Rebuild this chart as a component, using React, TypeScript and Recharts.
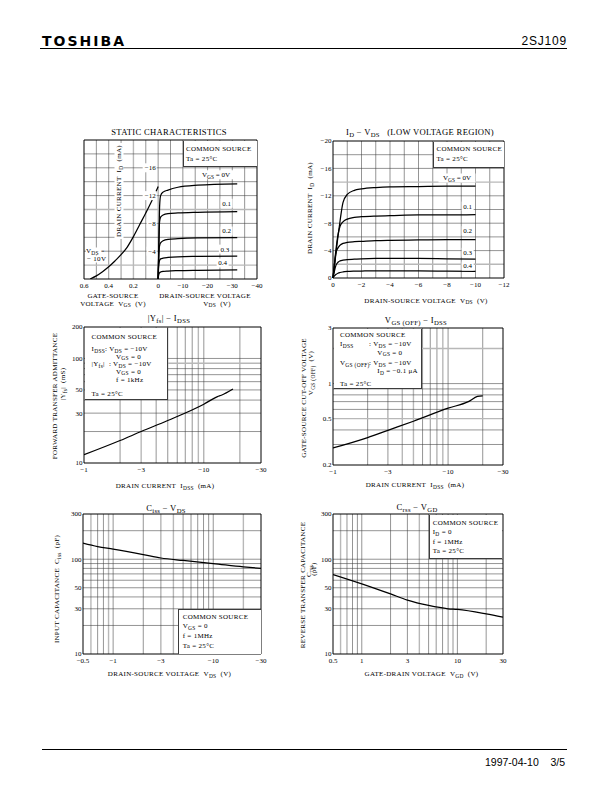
import React from "react";
import { LineChart, Line, XAxis, YAxis, ReferenceLine, ReferenceDot } from "recharts";

const SERIF = '"Liberation Serif", "DejaVu Serif", "Times New Roman", serif';
const SANS = '"Liberation Sans", "DejaVu Sans", Arial, sans-serif';
const FS = 7;
const GRID = "#3c3c3c";
const FAINT = "#b8b8b8";

// ---------- STATIC CHARACTERISTICS ----------
// transfer curve (VDS = -10 V), left half of the plot
const transferVgs = [0.55, 0.5, 0.45, 0.4, 0.35, 0.3, 0.25, 0.2, 0.15, 0.1, 0.05, 0];
const transferId = [0, -0.45, -1.05, -1.75, -2.6, -3.5, -4.6, -6.1, -7.8, -9.5, -11.3, -13.3];
// output curves, right half
const staticVds = [0, -0.2, -0.4, -0.6, -1, -2, -4, -8, -16, -32];
const staticId00 = [0, -3, -7, -10.5, -12, -12.5, -12.8, -13.2, -13.5, -13.7];
const staticId01 = [0, -3.5, -6.8, -8.3, -8.9, -9.2, -9.4, -9.5, -9.6, -9.7];
const staticId02 = [0, -3, -4.3, -4.8, -5.2, -5.5, -5.7, -5.8, -5.9, -5.95];
const staticId03 = [0, -1.8, -2.4, -2.7, -2.9, -3.0, -3.1, -3.2, -3.25, -3.3];
const staticId04 = [0, -0.55, -0.8, -0.9, -1.0, -1.1, -1.15, -1.2, -1.25, -1.3];
const staticGateTicks = [0.6, 0.4, 0.2, 0];
const staticDrainTicks = [-10, -20, -30, -40];
const staticIdTicks = [-16, -12, -8, -4];

// ---------- ID - VDS (LOW VOLTAGE REGION) ----------
const lowVds = [0, -0.1, -0.2, -0.35, -0.5, -0.7, -1, -1.5, -2, -3, -4, -6, -8, -10];
const lowId00 = [0, -1.7, -3.5, -6.1, -8.4, -11.0, -12.2, -12.8, -13.0, -13.2, -13.3, -13.35, -13.4, -13.4];
const lowId01 = [0, -2.0, -4.0, -6.3, -7.6, -8.2, -8.6, -8.85, -8.95, -9.05, -9.1, -9.2, -9.2, -9.25];
const lowId02 = [0, -1.9, -3.6, -4.4, -4.8, -5.05, -5.2, -5.3, -5.35, -5.45, -5.5, -5.55, -5.6, -5.6];
const lowId03 = [0, -1.0, -1.8, -2.3, -2.5, -2.6, -2.7, -2.75, -2.8, -2.85, -2.85, -2.85, -2.8, -2.75];
const lowId04 = [0, -0.3, -0.5, -0.7, -0.8, -0.88, -0.95, -1.0, -1.02, -1.05, -1.05, -1.05, -1.0, -0.95];
const lowVdsTicks = [0, -2, -4, -6, -8, -10, -12];
const lowIdTicks = [0, -4, -8, -12, -16, -20];

// ---------- |Yfs| - IDSS ----------
const yfsIdss = [1, 2, 3, 5, 10, 13, 14, 17.5];
const yfsVal = [12, 16.4, 20, 25.5, 36.5, 43.2, 44.5, 51];
const yfsYTicks = [10, 30, 50, 100, 200];

// ---------- VGS(OFF) - IDSS ----------
const offIdss = [1, 2, 3, 5, 10, 15, 18, 20];
const offVal = [0.28, 0.344, 0.397, 0.475, 0.615, 0.7, 0.775, 0.785];
const offYTicks = [0.2, 0.5, 1, 3];

// ---------- Ciss - VDS ----------
const cissVds = [0.5, 0.7, 1, 2, 3, 5, 10, 20, 30];
const cissVal = [148, 136, 128, 112, 103, 97, 90, 83, 80];

// ---------- Crss - VGD ----------
const crssVgd = [0.5, 1, 2, 3, 5, 8, 10, 20, 30];
const crssVal = [69, 55, 43, 37, 32.5, 30, 29.5, 26.5, 24.5];

// shared tick / grid lists
const idssTicks = [1, 3, 10, 30];
const idssGrid = [2, 3, 4, 5, 6, 7, 8, 9, 10, 20];
const capXTicks = [0.5, 1, 3, 10, 30];
const capXGrid = [0.6, 0.7, 0.8, 0.9, 1, 2, 3, 4, 5, 6, 7, 8, 9, 10, 20];
const capYTicks = [10, 30, 50, 100, 300];
const capYGrid = [20, 30, 40, 50, 60, 70, 80, 90, 100, 200];
const yfsYGrid = [20, 30, 40, 50, 60, 70, 80, 90, 100];
const offYGrid = [0.3, 0.4, 0.5, 0.6, 0.7, 0.8, 0.9, 1, 2];

const gatePos = (v: number) => -v * 10;
const drainPos = (v: number) => -v / 5;
const zip = (xs: number[], ys: number[]) => xs.map((x, i) => ({ x, y: ys[i] }));
const minus = (v: number) => String(v).replace("-", "\u2212");
const neg = (v: number) => "\u2212" + v;

const tickStyle = { fontSize: FS, fill: "#000", fontFamily: SERIF };

// grid lines; the ones listed in faintX / faintY come out pale, as in the print
const gridLines = (xs: number[], ys: number[], faintX: number[] = [], faintY: number[] = []) => [
  ...xs.map((v) => {
    const f = faintX.includes(v);
    return <ReferenceLine key={"gx" + v} x={v} stroke={f ? FAINT : GRID} strokeWidth={f ? 1.4 : 0.55} />;
  }),
  ...ys.map((v) => {
    const f = faintY.includes(v);
    return <ReferenceLine key={"gy" + v} y={v} stroke={f ? FAINT : GRID} strokeWidth={f ? 1.4 : 0.55} />;
  }),
];
const frame = (x0: number, x1: number, y0: number, y1: number) => [
  <ReferenceLine key="fx0" x={x0} stroke="#000" strokeWidth={1} />,
  <ReferenceLine key="fx1" x={x1} stroke="#000" strokeWidth={1} />,
  <ReferenceLine key="fy0" y={y0} stroke="#000" strokeWidth={1} />,
  <ReferenceLine key="fy1" y={y1} stroke="#000" strokeWidth={1} />,
];

const curve = (key: string, data: { x: number; y: number }[]) => (
  <Line
    key={key}
    data={data}
    dataKey="y"
    type="monotone"
    stroke="#000"
    strokeWidth={1.25}
    dot={false}
    isAnimationActive={false}
  />
);

// text with white backing, drawn at a data point
const tag =
  (content: React.ReactNode, w: number, anchor: "start" | "middle" | "end" = "middle", dx = 0) =>
  (p: any) => {
    const x = p.cx + dx;
    const rx = anchor === "start" ? x - 1 : anchor === "end" ? x - w + 1 : x - w / 2;
    return (
      <g>
        <rect x={rx} y={p.cy - 4.5} width={w} height={9} fill="#fff" />
        <text x={x} y={p.cy} dy="0.35em" textAnchor={anchor} fontSize={FS} fontFamily={SERIF} fill="#000">
          {content}
        </text>
      </g>
    );
  };

const vgsZero = (
  <>
    <tspan>V</tspan>
    <tspan fontSize={5.4} dy={1.8}>GS</tspan>
    <tspan dy={-1.8}> = 0V</tspan>
  </>
);

function Sub({ children }: { children: React.ReactNode }) {
  return <span style={{ fontSize: "0.78em", position: "relative", top: "0.32em" }}>{children}</span>;
}

function Txt({
  x, y, children, size = FS, anchor = "start", bg, font = SERIF, weight, spacing = 0.3,
}: {
  x: number; y: number; children: React.ReactNode; size?: number; anchor?: string;
  bg?: string; font?: string; weight?: number; spacing?: number;
}) {
  const tx = anchor === "middle" ? "-50%" : anchor === "end" ? "-100%" : "0";
  return (
    <div
      style={{
        position: "absolute", left: x, top: y, transform: `translate(${tx}, -50%)`,
        fontSize: size, fontFamily: font, lineHeight: 1, whiteSpace: "nowrap",
        background: bg, color: "#000", fontWeight: weight, letterSpacing: spacing,
      }}
    >
      {children}
    </div>
  );
}

function VTxt({ x, y, children, size = FS, bg }: { x: number; y: number; children: React.ReactNode; size?: number; bg?: string }) {
  return (
    <div
      style={{
        position: "absolute", left: x, top: y, transform: "translate(-50%, -50%) rotate(-90deg)",
        fontSize: size, fontFamily: SERIF, lineHeight: 1, whiteSpace: "nowrap", background: bg,
        padding: bg ? "1px 2px" : undefined, color: "#000", letterSpacing: 0.3,
      }}
    >
      {children}
    </div>
  );
}

function Box({ l, t, r, b, edges }: { l: number; t: number; r: number; b: number; edges: string }) {
  const line = `0.6px solid ${GRID}`;
  return (
    <div
      style={{
        position: "absolute", left: l, top: t, width: r - l, height: b - t, background: "#fff",
        boxSizing: "border-box",
        borderLeft: edges.includes("l") ? line : undefined,
        borderRight: edges.includes("r") ? line : undefined,
        borderTop: edges.includes("t") ? line : undefined,
        borderBottom: edges.includes("b") ? line : undefined,
      }}
    />
  );
}

// places a chart so that its plot area lands on (left, top, w, h)
function Plot({
  left, top, w, h, yw = 0, children,
}: { left: number; top: number; w: number; h: number; yw?: number; children: React.ReactNode }) {
  const T = 5, R = 6, B = 16;
  const L = yw || 6;
  return (
    <div style={{ position: "absolute", left: left - L, top: top - T }}>
      <LineChart width={L + w + R} height={T + h + B} margin={{ top: T, right: R, bottom: 0, left: yw ? 0 : L }}>
        {children}
      </LineChart>
    </div>
  );
}

function StaticChart() {
  const xTicks = [...staticGateTicks.map(gatePos), ...staticDrainTicks.map(drainPos)];
  const fmt = (p: number) => (p <= 0 ? String(+(-p / 10).toFixed(1)) : neg(p * 5));
  const xGrid = [-5, -4, -3, -2, -1, 0, 1, 2, 3, 4, 5, 6, 7];
  const yGrid = [-18, -16, -14, -12, -10, -8, -6, -4, -2];
  const outs = [staticId00, staticId01, staticId02, staticId03, staticId04];
  return (
    <Plot left={84} top={140} w={173} h={139}>
      <XAxis
        dataKey="x" type="number" domain={[-6, 8]} ticks={xTicks} interval={0} tickFormatter={fmt}
        axisLine={false} tickLine={false} tickSize={4} tickMargin={0} height={16} tick={tickStyle}
      />
      <YAxis hide type="number" domain={[-20, 0]} reversed allowDataOverflow />
      {gridLines(xGrid, yGrid, [-2], [-10, -2])}
      {frame(-6, 8, -20, 0)}
      {curve("tr", zip(transferVgs.map(gatePos), transferId))}
      {outs.map((ids, i) => curve("o" + i, zip(staticVds.map(drainPos), ids)))}
      {staticIdTicks.map((v) => (
        <ReferenceDot key={"t" + v} x={0} y={v} r={0} shape={tag(minus(v), v <= -10 ? 14 : 10, "end", -2.5)} />
      ))}
      <ReferenceDot x={drainPos(-23.4)} y={-15} r={0} shape={tag(vgsZero, 35)} />
      <ReferenceDot x={drainPos(-27.7)} y={-10.9} r={0} shape={tag("0.1", 12)} />
      <ReferenceDot x={drainPos(-27.7)} y={-6.9} r={0} shape={tag("0.2", 12)} />
      <ReferenceDot x={drainPos(-27)} y={-4.3} r={0} shape={tag("0.3", 12)} />
      <ReferenceDot x={drainPos(-26.1)} y={-2.3} r={0} shape={tag("0.4", 12)} />
    </Plot>
  );
}

function LowChart() {
  const xGrid = [-1, -2, -3, -4, -5, -6, -7, -8, -9, -10, -11];
  const yGrid = [-18, -16, -14, -12, -10, -8, -6, -4, -2];
  const outs = [lowId00, lowId01, lowId02, lowId03, lowId04];
  return (
    <Plot left={333} top={141} w={171} h={137} yw={22}>
      <XAxis
        dataKey="x" type="number" domain={[-12, 0]} reversed ticks={lowVdsTicks} interval={0} tickFormatter={minus}
        axisLine={false} tickLine={false} tickSize={4} tickMargin={0} height={16} tick={tickStyle}
      />
      <YAxis
        type="number" domain={[-20, 0]} reversed ticks={lowIdTicks} interval={0} tickFormatter={minus}
        axisLine={false} tickLine={false} tickSize={1.5} tickMargin={0} width={22} tick={tickStyle}
      />
      {gridLines(xGrid, yGrid, [], [-14, -2])}
      {frame(-12, 0, -20, 0)}
      {outs.map((ids, i) => curve("l" + i, zip(lowVds, ids)))}
      <ReferenceDot x={-8.7} y={-14.6} r={0} shape={tag(vgsZero, 37)} />
      <ReferenceDot x={-9.45} y={-10.5} r={0} shape={tag("0.1", 12)} />
      <ReferenceDot x={-9.45} y={-6.9} r={0} shape={tag("0.2", 12)} />
      <ReferenceDot x={-9.45} y={-3.75} r={0} shape={tag("0.3", 12)} />
      <ReferenceDot x={-9.45} y={-1.75} r={0} shape={tag("0.4", 12)} />
    </Plot>
  );
}

function LogChart({
  left, top, w, h, xDom, yDom, xTicks, yTicks, xGrid, yGrid, xNeg, data, faintX = [], faintY = [],
}: {
  left: number; top: number; w: number; h: number; xDom: number[]; yDom: number[];
  xTicks: number[]; yTicks: number[]; xGrid: number[]; yGrid: number[]; xNeg: boolean;
  data: { x: number; y: number }[]; faintX?: number[]; faintY?: number[];
}) {
  return (
    <Plot left={left} top={top} w={w} h={h} yw={22}>
      <XAxis
        dataKey="x" type="number" scale="log" domain={xDom} allowDataOverflow ticks={xTicks} interval={0}
        tickFormatter={(v: number) => (xNeg ? neg(v) : String(v))}
        axisLine={false} tickLine={false} tickSize={4} tickMargin={0} height={16} tick={tickStyle}
      />
      <YAxis
        type="number" scale="log" domain={yDom} allowDataOverflow ticks={yTicks} interval={0}
        tickFormatter={(v: number) => String(v)}
        axisLine={false} tickLine={false} tickSize={1.5} tickMargin={0} width={22} tick={tickStyle}
      />
      {gridLines(xGrid, yGrid, faintX, faintY)}
      {frame(xDom[0], xDom[1], yDom[0], yDom[1])}
      {curve("c", data)}
    </Plot>
  );
}

export default function App() {
  return (
    <div style={{ position: "absolute", left: 0, top: 0, width: 612, height: 792, background: "#fff", overflow: "hidden" }}>
      {/* header */}
      <Txt x={42} y={41} size={14} font='"DejaVu Sans", sans-serif' weight={700} spacing={2}>TOSHIBA</Txt>
      <Txt x={567} y={41} size={12} font={SANS} anchor="end" spacing={0.8}>2SJ109</Txt>
      <div style={{ position: "absolute", left: 40, top: 48, width: 527, height: 1.2, background: "#000" }} />

      {/* STATIC CHARACTERISTICS */}
      <StaticChart />
      <Txt x={169} y={131.5} size={8.6} anchor="middle">STATIC CHARACTERISTICS</Txt>
      <VTxt x={118.5} y={191} bg="#fff">DRAIN CURRENT&nbsp;&nbsp;I<Sub>D</Sub>&nbsp;&nbsp;(mA)</VTxt>
      <Txt x={86} y={251} bg="#fff">V<Sub>DS</Sub> =</Txt>
      <Txt x={87} y={258.8} bg="#fff">{"\u2212 10V"}</Txt>
      <Box l={183} t={140.5} r={256.5} b={167.3} edges="lb" />
      <Txt x={186} y={149}>COMMON SOURCE</Txt>
      <Txt x={186} y={159}>Ta = 25°C</Txt>
      <Txt x={113} y={295.5} anchor="middle">GATE-SOURCE</Txt>
      <Txt x={113} y={303.5} anchor="middle">VOLTAGE&nbsp;&nbsp;V<Sub>GS</Sub>&nbsp;&nbsp;(V)</Txt>
      <Txt x={205} y={295.5} anchor="middle">DRAIN-SOURCE VOLTAGE</Txt>
      <Txt x={217} y={303.5} anchor="middle">V<Sub>DS</Sub>&nbsp;&nbsp;(V)</Txt>

      {/* ID - VDS low voltage */}
      <LowChart />
      <Txt x={420} y={132} size={8.6} anchor="middle">
        I<Sub>D</Sub> {"\u2212"} V<Sub>DS</Sub>&nbsp;&nbsp;&nbsp;(LOW VOLTAGE REGION)
      </Txt>
      <VTxt x={309.5} y={208}>DRAIN CURRENT&nbsp;&nbsp;I<Sub>D</Sub>&nbsp;&nbsp;(mA)</VTxt>
      <Box l={433} t={141.5} r={503.5} b={167.9} edges="lb" />
      <Txt x={436.5} y={149.3}>COMMON SOURCE</Txt>
      <Txt x={436.5} y={159.3}>Ta = 25°C</Txt>
      <Txt x={426} y={300.5} anchor="middle">DRAIN-SOURCE VOLTAGE&nbsp;&nbsp;V<Sub>DS</Sub>&nbsp;&nbsp;(V)</Txt>

      {/* |Yfs| - IDSS */}
      <LogChart
        left={84} top={327} w={177} h={136} xDom={[1, 30]} yDom={[10, 200]} xTicks={idssTicks}
        yTicks={yfsYTicks} xGrid={idssGrid} yGrid={yfsYGrid} xNeg data={zip(yfsIdss, yfsVal)}
        faintX={[3, 9]} faintY={[90]}
      />
      <Txt x={169} y={318} size={8.6} anchor="middle">|Y<Sub>fs</Sub>| {"\u2212"} I<Sub>DSS</Sub></Txt>
      <VTxt x={55} y={396}>FORWARD TRANSFER ADMITTANCE</VTxt>
      <VTxt x={62.5} y={384}>|Y<Sub>fs</Sub>|&nbsp;&nbsp;(mS)</VTxt>
      <Box l={84.5} t={327.5} r={167.5} b={399.8} edges="rb" />
      <Txt x={91.5} y={336.7}>COMMON SOURCE</Txt>
      <Txt x={91.5} y={349}>I<Sub>DSS</Sub></Txt>
      <Txt x={105} y={349}>: V<Sub>DS</Sub> = {"\u2212"}10V</Txt>
      <Txt x={116} y={356.7}>V<Sub>GS</Sub> = 0</Txt>
      <Txt x={91.5} y={364}>|Y<Sub>fs</Sub>|&nbsp;&nbsp;: V<Sub>DS</Sub> = {"\u2212"}10V</Txt>
      <Txt x={116} y={371.7}>V<Sub>GS</Sub> = 0</Txt>
      <Txt x={116} y={379.5}>f = 1kHz</Txt>
      <Txt x={91.5} y={394}>Ta = 25°C</Txt>
      <Txt x={165} y={486} anchor="middle">DRAIN CURRENT&nbsp;&nbsp;I<Sub>DSS</Sub>&nbsp;&nbsp;(mA)</Txt>

      {/* VGS(OFF) - IDSS */}
      <LogChart
        left={333} top={328} w={170} h={137} xDom={[1, 30]} yDom={[0.2, 3]} xTicks={idssTicks}
        yTicks={offYTicks} xGrid={idssGrid} yGrid={offYGrid} xNeg data={zip(offIdss, offVal)}
        faintX={[4, 5, 9]} faintY={[0.5, 2]}
      />
      <Txt x={416} y={320} size={8.6} anchor="middle">V<Sub>GS (OFF)</Sub> {"\u2212"} I<Sub>DSS</Sub></Txt>
      <VTxt x={303.5} y={398}>GATE-SOURCE CUT-OFF VOLTAGE</VTxt>
      <VTxt x={311} y={373}>V<Sub>GS (OFF)</Sub>&nbsp;&nbsp;(V)</VTxt>
      <Box l={333.5} t={328.5} r={422.3} b={388.6} edges="rb" />
      <Txt x={340} y={335}>COMMON SOURCE</Txt>
      <Txt x={340} y={344.3}>I<Sub>DSS</Sub></Txt>
      <Txt x={369} y={344.3}>: V<Sub>DS</Sub> = {"\u2212"}10V</Txt>
      <Txt x={377.3} y={352.7}>V<Sub>GS</Sub> = 0</Txt>
      <Txt x={340} y={363.3}>V<Sub>GS (OFF)</Sub></Txt>
      <Txt x={369} y={363.3}>: V<Sub>DS</Sub> = {"\u2212"}10V</Txt>
      <Txt x={377.3} y={371}>I<Sub>D</Sub> = {"\u2212"}0.1 μA</Txt>
      <Txt x={340} y={384}>Ta = 25°C</Txt>
      <Txt x={415} y={485} anchor="middle">DRAIN CURRENT&nbsp;&nbsp;I<Sub>DSS</Sub>&nbsp;&nbsp;(mA)</Txt>

      {/* Ciss - VDS */}
      <LogChart
        left={83} top={514} w={178} h={140} xDom={[0.5, 30]} yDom={[10, 300]} xTicks={capXTicks}
        yTicks={capYTicks} xGrid={capXGrid} yGrid={capYGrid} xNeg data={zip(cissVds, cissVal)}
        faintX={[0.6, 0.9, 4, 20]}
      />
      <Txt x={166} y={507.5} size={8.6} anchor="middle">C<Sub>iss</Sub> {"\u2212"} V<Sub>DS</Sub></Txt>
      <VTxt x={57} y={589}>INPUT CAPACITANCE&nbsp;&nbsp;C<Sub>iss</Sub>&nbsp;&nbsp;(pF)</VTxt>
      <Box l={178} t={609} r={260.5} b={653.5} edges="lt" />
      <Txt x={182.7} y={617.3}>COMMON SOURCE</Txt>
      <Txt x={182.7} y={626}>V<Sub>GS</Sub> = 0</Txt>
      <Txt x={182.7} y={635.7}>f = 1MHz</Txt>
      <Txt x={182.7} y={645.5}>Ta = 25°C</Txt>
      <Txt x={169.5} y={674} anchor="middle">DRAIN-SOURCE VOLTAGE&nbsp;&nbsp;V<Sub>DS</Sub>&nbsp;&nbsp;(V)</Txt>

      {/* Crss - VGD */}
      <LogChart
        left={333} top={514} w={170} h={140} xDom={[0.5, 30]} yDom={[10, 300]} xTicks={capXTicks}
        yTicks={capYTicks} xGrid={capXGrid} yGrid={capYGrid} xNeg={false} data={zip(crssVgd, crssVal)}
        faintX={[0.6, 4]}
      />
      <Txt x={417} y={507} size={8.6} anchor="middle">C<Sub>rss</Sub> {"\u2212"} V<Sub>GD</Sub></Txt>
      <VTxt x={303} y={585}>REVERSE TRANSFER CAPACITANCE</VTxt>
      <VTxt x={309} y={571}>C<Sub>rss</Sub></VTxt>
      <VTxt x={313.5} y={569}>(pF)</VTxt>
      <Box l={428.6} t={514.5} r={502.5} b={559.2} edges="lb" />
      <Txt x={432.7} y={522.7}>COMMON SOURCE</Txt>
      <Txt x={432.7} y={532.3}>I<Sub>D</Sub> = 0</Txt>
      <Txt x={432.7} y={542}>f = 1MHz</Txt>
      <Txt x={432.7} y={551.3}>Ta = 25°C</Txt>
      <Txt x={421.5} y={674} anchor="middle">GATE-DRAIN VOLTAGE&nbsp;&nbsp;V<Sub>GD</Sub>&nbsp;&nbsp;(V)</Txt>

      {/* footer */}
      <div style={{ position: "absolute", left: 42, top: 749, width: 525, height: 1, background: "#000" }} />
      <Txt x={565} y={762} size={10.5} font={SANS} anchor="end" spacing={0}>1997-04-10&nbsp;&nbsp;&nbsp;&nbsp;3/5</Txt>
    </div>
  );
}
